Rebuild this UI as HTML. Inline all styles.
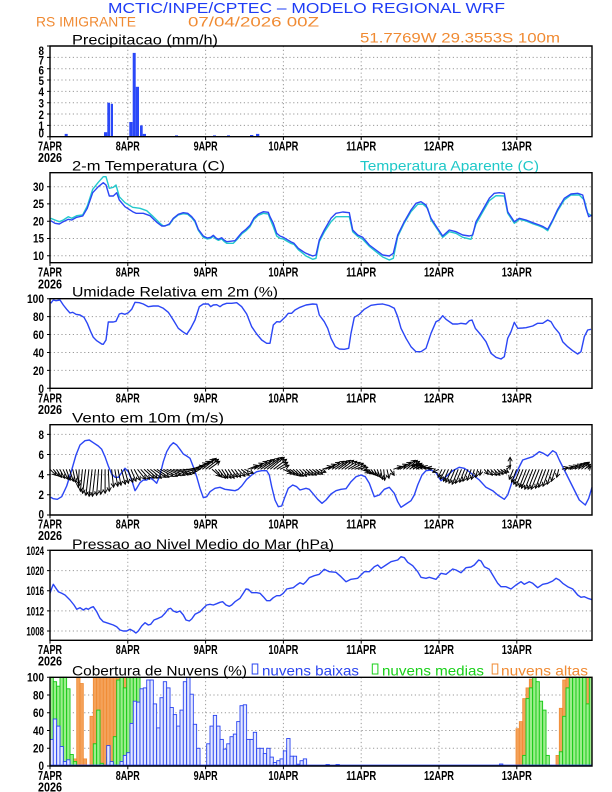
<!DOCTYPE html>
<html><head><meta charset="utf-8"><style>
html,body{margin:0;padding:0;background:#fff}
svg{display:block}
text{font-family:"Liberation Sans",sans-serif}
.g{stroke:#9a9a9a;stroke-width:1;stroke-dasharray:1.2 2.6;fill:none}
.fr{fill:none;stroke:#000;stroke-width:1.4}
.yl{font-size:11.5px;font-weight:bold;fill:#000;text-anchor:end}
.dl{font-size:13px;font-weight:bold;fill:#000;text-anchor:middle}
.tt{font-size:14px;fill:#000}
.ln{fill:none;stroke:#2b46f5;stroke-width:1.4;stroke-linejoin:round}
.tk{stroke:#000;stroke-width:1}
</style></head><body>
<svg width="612" height="792" viewBox="0 0 612 792" xmlns="http://www.w3.org/2000/svg">
<defs>
<marker id="ah" markerWidth="6" markerHeight="6" refX="4.5" refY="3" orient="auto" markerUnits="userSpaceOnUse"><path d="M0.5 0.8L4.5 3L0.5 5.2" fill="none" stroke="#000" stroke-width="0.9"/></marker>
</defs>
<rect width="612" height="792" fill="#fff"/>

<!-- Header -->
<text x="108" y="13" font-size="14.5" fill="#1e3cf5" textLength="397" lengthAdjust="spacingAndGlyphs">MCTIC/INPE/CPTEC – MODELO REGIONAL WRF</text>
<text x="36" y="26.5" font-size="14" fill="#f08a32" textLength="100" lengthAdjust="spacingAndGlyphs">RS IMIGRANTE</text>
<text x="188" y="26.5" font-size="14" fill="#f08a32" textLength="131" lengthAdjust="spacingAndGlyphs">07/04/2026 00Z</text>
<text x="360" y="42.5" font-size="14" fill="#f08a32" textLength="200" lengthAdjust="spacingAndGlyphs">51.7769W 29.3553S 100m</text>

<!-- ============ PANEL 1: Precip ============ -->
<text class="tt" x="72" y="44.3" textLength="146" lengthAdjust="spacingAndGlyphs">Precipitacao (mm/h)</text>
<g class="g">
<path d="M50 125.4H592M50 114H592M50 102.7H592M50 91.4H592M50 80H592M50 68.7H592M50 57.4H592"/>
<path d="M127.8 46V136.7M205.6 46V136.7M283.4 46V136.7M361.2 46V136.7M439 46V136.7M516.8 46V136.7"/>
</g>
<g fill="#2a48f8">
<rect x="64.7" y="133.9" width="3" height="2.8"/>
<rect x="104" y="132.2" width="3.3" height="4.5"/>
<rect x="107.3" y="102.7" width="2.7" height="34"/>
<rect x="110.7" y="103.8" width="2.3" height="32.9"/>
<rect x="129.3" y="122" width="3.3" height="14.7"/>
<rect x="132.7" y="52.9" width="3" height="83.8"/>
<rect x="135.7" y="86.8" width="3.3" height="49.9"/>
<rect x="140" y="125.4" width="2.7" height="11.3"/>
<rect x="142.7" y="133.9" width="3.3" height="2.8"/>
<rect x="175" y="135.4" width="3" height="1.3"/>
<rect x="213" y="135.4" width="3" height="1.3"/>
<rect x="227" y="135.4" width="3" height="1.3"/>
<rect x="250" y="135" width="3.3" height="1.7"/>
<rect x="256" y="133.9" width="3.3" height="2.8"/>
</g>
<path class="fr" d="M50 46H592V136.7H50Z"/>
<path class="tk" d="M47 46H50M47 57.4H50M47 68.7H50M47 80H50M47 91.4H50M47 102.7H50M47 114H50M47 125.4H50M47 136.7H50M50 136.7V140M127.8 136.7V140M205.6 136.7V140M283.4 136.7V140M361.2 136.7V140M439 136.7V140M516.8 136.7V140"/>
<g class="yl">
<text x="44" y="55" textLength="5.5" lengthAdjust="spacingAndGlyphs">8</text>
<text x="44" y="64.3" textLength="5.5" lengthAdjust="spacingAndGlyphs">7</text>
<text x="44" y="74.6" textLength="5.5" lengthAdjust="spacingAndGlyphs">6</text>
<text x="44" y="85" textLength="5.5" lengthAdjust="spacingAndGlyphs">5</text>
<text x="44" y="96" textLength="5.5" lengthAdjust="spacingAndGlyphs">4</text>
<text x="44" y="107.5" textLength="5.5" lengthAdjust="spacingAndGlyphs">3</text>
<text x="44" y="118.8" textLength="5.5" lengthAdjust="spacingAndGlyphs">2</text>
<text x="44" y="130" textLength="5.5" lengthAdjust="spacingAndGlyphs">1</text>
<text x="44" y="137.3" textLength="5.5" lengthAdjust="spacingAndGlyphs">0</text>
</g>
<g class="dl">
<text x="50" y="150.7" textLength="24" lengthAdjust="spacingAndGlyphs">7APR</text>
<text x="50" y="162.2" textLength="24" lengthAdjust="spacingAndGlyphs">2026</text>
<text x="127.8" y="150.7" textLength="24" lengthAdjust="spacingAndGlyphs">8APR</text>
<text x="205.6" y="150.7" textLength="24" lengthAdjust="spacingAndGlyphs">9APR</text>
<text x="283.4" y="150.7" textLength="30" lengthAdjust="spacingAndGlyphs">10APR</text>
<text x="361.2" y="150.7" textLength="30" lengthAdjust="spacingAndGlyphs">11APR</text>
<text x="439" y="150.7" textLength="30" lengthAdjust="spacingAndGlyphs">12APR</text>
<text x="516.8" y="150.7" textLength="30" lengthAdjust="spacingAndGlyphs">13APR</text>
</g>

<!-- ============ PANEL 2: Temperature ============ -->
<text class="tt" x="72" y="170.7" textLength="153" lengthAdjust="spacingAndGlyphs">2-m Temperatura (C)</text>
<text x="360" y="170.7" font-size="14" fill="#1ec8c8" textLength="179" lengthAdjust="spacingAndGlyphs">Temperatura Aparente (C)</text>
<g class="g">
<path d="M50 186.7H592M50 203.9H592M50 221.2H592M50 238.5H592M50 255.8H592"/>
<path d="M127.8 172.7V262.7M205.6 172.7V262.7M283.4 172.7V262.7M361.2 172.7V262.7M439 172.7V262.7M516.8 172.7V262.7"/>
</g>
<polyline fill="none" stroke="#22c8cc" stroke-width="1.4" stroke-linejoin="round" points="50.7,218.3 55,220 59.3,221.7 63.3,220 68.3,216.7 71.7,218.3 76.7,215.7 82.7,215 87.3,206 92.7,189.3 98.3,182.3 103.3,176.7 106,176.7 109.3,188.3 113.3,187.3 116,185 119.3,196.7 125,202.7 132.7,207.3 140,208.3 146.7,210.7 153.3,216.7 160,223.3 163.3,226 169.3,224.7 173.3,219 178.3,215 183.3,213.7 187.7,214.3 191.7,217.7 195,222 198.3,230.3 203.3,237.3 207.3,239 210.7,238.3 213.3,236.3 216,239 218.3,240.3 221.7,239 224,241.3 226.7,243.3 233.3,243.3 237.3,239.3 241.7,234 246,230.7 250,226.7 254,219.3 258.3,215.3 263.3,213.3 268.3,214 270,218.7 273.3,226.7 276.7,236 280,238.3 283.3,239 286.7,241 290.7,243.3 294,244.3 298.3,249.7 303.3,253.7 306,256 312.7,259.3 316,258.3 319.3,241.7 324.3,232 331,221.7 336,216.7 349.3,216.7 352.7,231.7 357.7,236.3 362.7,239.3 369.3,246.3 376,251.7 382.7,257 389.3,260 393.3,258.3 397.7,236.7 404.3,223 411,211.7 417.7,204.3 422.7,204 427.7,208.3 431,219.7 436,227.3 442.7,237.3 449.3,231.7 456,233.3 462.7,237.3 471,239.3 476,224 482.7,212 489.3,200.7 496,195.7 504.3,196 507.7,213.3 514.3,223.3 519.3,219.3 526,221 532.7,223.7 539.3,226 543.3,227.7 547.7,230.7 552.7,221 557.7,210.7 564.3,200 571,195 579.3,195 584.3,200 587.7,213.3 592,216"/>
<polyline class="ln" points="50.7,220.7 55,223.3 59.3,224 63.3,221.7 68.3,219.3 71.7,220 76.7,217.3 82.7,216 87.3,208.3 92.7,192.7 98.3,186.7 103.3,182.7 106,185 109.3,196 113.3,196 116.7,192.7 119.3,200 125,206.7 132.7,211.7 136,213.3 143.3,213.3 150,215.7 157.3,222.7 161.7,226 165,226 169.3,224 173.3,218.3 178.3,214.3 183.3,212.7 187.7,213.3 191.7,216.7 195,220.7 198.3,229.3 203.3,236 207.3,238 210.7,237.3 213.3,235.3 216,238 218.3,239.3 221.7,237.7 224,240 226.7,241.7 230,241.3 235,240.7 237.3,238 241.7,232.7 246,229.3 250,225.3 254,218 258.3,214 263.3,211.7 268.3,212.3 270,216.7 273.3,223.3 276.7,233.3 280,236 283.3,237.3 286.7,239.3 290.7,241.7 294,243.3 298.3,248.3 303.3,251.7 306,253.3 312.7,256 316,255 319.3,240 324.3,230 331,218.3 336,213.3 342.7,212 349.3,212.7 352.7,230 357.7,235 362.7,237.3 369.3,245 376,250 382.7,255 389.3,256 393.3,253.3 397.7,235 404.3,221.7 411,210 416,203.3 421,201.7 426,205 431,218.3 436,226 442.7,236 449.3,230 456,231.7 462.7,235 469.3,236 472.7,235 476,221.7 482.7,210 489.3,198.3 494.3,193.3 499.3,192.7 504.3,193.3 507.7,211.7 514.3,221.7 519.3,218.3 526,220 532.7,222.7 539.3,225 543.3,226.7 547.7,229.3 552.7,220 557.7,209.3 564.3,198.3 571,194 577.7,193.3 582.7,195 586,208.3 588.7,216.7 592,215"/>
<path class="fr" d="M50 172.7H592V262.7H50Z"/>
<path class="tk" d="M47 186.7H50M47 203.9H50M47 221.2H50M47 238.5H50M47 255.8H50M50 262.7V266M127.8 262.7V266M205.6 262.7V266M283.4 262.7V266M361.2 262.7V266M439 262.7V266M516.8 262.7V266"/>
<g class="yl">
<text x="44" y="190.9" textLength="11" lengthAdjust="spacingAndGlyphs">30</text>
<text x="44" y="208.1" textLength="11" lengthAdjust="spacingAndGlyphs">25</text>
<text x="44" y="225.4" textLength="11" lengthAdjust="spacingAndGlyphs">20</text>
<text x="44" y="242.7" textLength="11" lengthAdjust="spacingAndGlyphs">15</text>
<text x="44" y="260" textLength="11" lengthAdjust="spacingAndGlyphs">10</text>
</g>
<g class="dl">
<text x="50" y="276.7" textLength="24" lengthAdjust="spacingAndGlyphs">7APR</text>
<text x="50" y="288.3" textLength="24" lengthAdjust="spacingAndGlyphs">2026</text>
<text x="127.8" y="276.7" textLength="24" lengthAdjust="spacingAndGlyphs">8APR</text>
<text x="205.6" y="276.7" textLength="24" lengthAdjust="spacingAndGlyphs">9APR</text>
<text x="283.4" y="276.7" textLength="30" lengthAdjust="spacingAndGlyphs">10APR</text>
<text x="361.2" y="276.7" textLength="30" lengthAdjust="spacingAndGlyphs">11APR</text>
<text x="439" y="276.7" textLength="30" lengthAdjust="spacingAndGlyphs">12APR</text>
<text x="516.8" y="276.7" textLength="30" lengthAdjust="spacingAndGlyphs">13APR</text>
</g>

<!-- ============ PANEL 3: Humidity ============ -->
<text class="tt" x="72" y="296.7" textLength="206" lengthAdjust="spacingAndGlyphs">Umidade Relativa em 2m (%)</text>
<g class="g">
<path d="M50 370.4H592M50 352.5H592M50 334.5H592M50 316.6H592"/>
<path d="M127.8 298.7V388.3M205.6 298.7V388.3M283.4 298.7V388.3M361.2 298.7V388.3M439 298.7V388.3M516.8 298.7V388.3"/>
</g>
<polyline class="ln" points="50.7,303.3 53.3,300 56,300.7 60,300 63.3,305 66.7,309.3 70,313 72.7,312.3 76,314.3 80,315 84,317.3 87.3,323.3 90.7,331.7 93.3,337.3 96.7,340.7 101.7,344 103.3,344.3 106,340 108.3,322 113.3,322 116,321.3 119.3,314 121.7,313.3 125,314.3 128.3,312.7 131.7,309.3 135,302.3 139.3,302.7 143.3,304 148.3,306.7 153.3,306 158.3,306 163.3,308.3 168.3,312.3 173.3,320 178.3,328.3 182.7,331.7 186.7,334.3 190.7,328.3 195,320 199.3,306.7 203.3,304 208.3,304 210.7,306.7 213.3,305 216.7,304.7 220,306.7 222.7,304.7 226.7,303.3 231.7,303.3 236.7,302.7 241.7,306.7 246.7,314 251.7,326.7 256.7,334 261.7,340 266.7,343.3 270,343.3 273.3,325 276.7,321.7 280,322 285,317.3 288.3,313.3 291.7,313.3 295,310 300,307.3 306,305 312.7,304 316.7,304.3 319.3,315 324.3,321.7 327.7,328.3 331,338.3 335.3,346.7 339.3,349 344.3,349.3 348.7,348.3 351,333.3 354.3,317.3 359.3,314.3 364.3,309.3 371,305.3 377.7,304.3 382.7,304 389.3,305.7 394.3,308.3 397.7,316.7 401,328.3 406,338.3 411,346.7 416,351.7 421,351.7 426,348.3 431,333.3 436,321.7 439.3,320 442.7,315.7 446,319.3 452.7,324 457.7,324 461,323.3 466,324 469.3,320.7 472,320 475.3,328.3 481,335 486,341.7 491,353.3 496,357.3 501,359 504.3,356.7 507.7,338.3 511,331.7 514.3,322.3 517.7,328.3 522.7,328 526,327.7 532.7,326 537.7,323.3 542.7,323.3 547.7,320 551,321.7 554.3,327.3 559.3,333.3 562.7,341.7 567.7,346.7 572.7,350.7 577.7,354 581,351.7 584.3,336.7 587.7,330 591,329.3"/>
<path class="fr" d="M50 298.7H592V388.3H50Z"/>
<path class="tk" d="M47 298.7H50M47 316.6H50M47 334.5H50M47 352.5H50M47 370.4H50M47 388.3H50M50 388.3V391.6M127.8 388.3V391.6M205.6 388.3V391.6M283.4 388.3V391.6M361.2 388.3V391.6M439 388.3V391.6M516.8 388.3V391.6"/>
<g class="yl">
<text x="44" y="303.2" textLength="17" lengthAdjust="spacingAndGlyphs">100</text>
<text x="44" y="321" textLength="11" lengthAdjust="spacingAndGlyphs">80</text>
<text x="44" y="338.9" textLength="11" lengthAdjust="spacingAndGlyphs">60</text>
<text x="44" y="356.9" textLength="11" lengthAdjust="spacingAndGlyphs">40</text>
<text x="44" y="374.8" textLength="11" lengthAdjust="spacingAndGlyphs">20</text>
<text x="44" y="392.8" textLength="5.5" lengthAdjust="spacingAndGlyphs">0</text>
</g>
<g class="dl">
<text x="50" y="402.3" textLength="24" lengthAdjust="spacingAndGlyphs">7APR</text>
<text x="50" y="413.8" textLength="24" lengthAdjust="spacingAndGlyphs">2026</text>
<text x="127.8" y="402.3" textLength="24" lengthAdjust="spacingAndGlyphs">8APR</text>
<text x="205.6" y="402.3" textLength="24" lengthAdjust="spacingAndGlyphs">9APR</text>
<text x="283.4" y="402.3" textLength="30" lengthAdjust="spacingAndGlyphs">10APR</text>
<text x="361.2" y="402.3" textLength="30" lengthAdjust="spacingAndGlyphs">11APR</text>
<text x="439" y="402.3" textLength="30" lengthAdjust="spacingAndGlyphs">12APR</text>
<text x="516.8" y="402.3" textLength="30" lengthAdjust="spacingAndGlyphs">13APR</text>
</g>

<!-- ============ PANEL 4: Wind ============ -->
<text class="tt" x="72" y="422.7" textLength="152" lengthAdjust="spacingAndGlyphs">Vento em 10m (m/s)</text>
<g class="g">
<path d="M50 494.8H592M50 474.7H592M50 454.5H592M50 434.4H592"/>
<path d="M127.8 424.7V515M205.6 424.7V515M283.4 424.7V515M361.2 424.7V515M439 424.7V515M516.8 424.7V515"/>
</g>
<polyline class="ln" points="50.7,497.3 53.3,498.7 57.3,499.3 61.7,496.7 66.7,486 71.7,470 76,455 80,445 85,440.7 89.3,440 93.3,442.7 98.3,446 101.7,449.3 105,456.7 108.3,466 111.7,474 115,477.3 118.3,477.3 121.7,472.7 125,468.3 128.3,471.7 131.7,480 135,490.7 136.7,488.3 140,482.7 143.3,480 146.7,480 150,477.7 153.3,480 156.7,483.3 160,475 163.3,461.7 166.7,451.7 170,446 173.3,442.7 176.7,445 180,449.3 183.3,454 186.7,456 190,458.3 193.3,466.7 196.7,476.7 200,488.3 203.3,497.7 206.7,496.7 210,491.7 215,488.3 220,487.3 225,489.3 230,490 235,490.7 238.3,489.3 241.7,486 246.7,479.3 251.7,475 256.7,471.7 261.7,470.7 266.7,470.7 269.3,475 271.7,486.7 275,500 278.3,506.7 281.7,506 285,496.7 288.3,488.3 292.7,485 296.7,486.7 300,490 306,488.3 309.3,489.3 312.7,493.3 317.7,499.3 322,503.3 326,500 331,494 336,490.7 341,489.3 346,488.7 351,481.7 356,476.7 361,475 365.3,476.7 369.3,483.3 374.3,496.7 379.3,495 384.3,489.3 389.3,487.3 394.3,493.3 397.7,501.7 401,507.3 406,504 411,500.7 414.3,495 417.7,485 422,475 426,470.7 431,470 436,472.7 441,480.7 446,476.7 452.7,470.7 459.3,467.3 464.3,468.3 469.3,471.7 474.3,476 479.3,480 486,487.3 492.7,490.7 497.7,495 504.3,499.3 507.7,495 512.7,480 517.7,470 522.7,460 527.7,458.3 532.7,456.7 539.3,451.7 543.3,453.3 547.7,456 552.7,450.7 556,452.7 559.3,460 564.3,470 569.3,480 574.3,490 579.3,500 585.3,505 588.7,498.3 592,487.3"/>
<g stroke="#000" stroke-width="1" fill="none" marker-end="url(#ah)">
<path d="M50 469.3l6 6"/><path d="M53.2 469.3l6 7"/><path d="M56.5 469.3l5 8"/><path d="M59.7 469.3l5 9"/><path d="M63 469.3l5 10"/><path d="M66.2 469.3l4 11"/><path d="M69.4 469.3l4 12"/><path d="M72.7 469.3l3 13"/><path d="M75.9 469.3l3 15"/>
<path d="M79.2 469.3l-1 18"/><path d="M82.4 469.3l-2 22"/><path d="M85.6 469.3l-3 24"/><path d="M88.9 469.3l-3 26"/><path d="M92.1 469.3l-3 27"/><path d="M95.4 469.3l-3 27"/><path d="M98.6 469.3l-2 26"/><path d="M101.8 469.3l-1 25"/><path d="M105.1 469.3l0 24"/><path d="M108.3 469.3l1 22"/>
<path d="M111.6 469.3l2 18"/><path d="M114.8 469.3l3 17"/><path d="M118 469.3l3 16"/><path d="M121.3 469.3l4 15"/><path d="M124.5 469.3l4 14"/><path d="M127.8 469.3l5 13"/><path d="M131 469.3l5 12"/><path d="M134.2 469.3l6 11"/>
<path d="M137.5 469.3l8 10"/><path d="M140.7 469.3l9 10"/><path d="M144 469.3l10 9"/><path d="M147.2 469.3l10 9"/><path d="M150.4 469.3l11 9"/><path d="M153.7 469.3l12 8"/><path d="M156.9 469.3l12 8"/>
<path d="M160.2 469.3l13 7"/><path d="M163.4 469.3l14 7"/><path d="M166.6 469.3l14 6"/><path d="M169.9 469.3l15 6"/><path d="M173.1 469.3l15 5"/><path d="M176.4 469.3l15 5"/><path d="M179.6 469.3l15 4"/><path d="M182.8 469.3l14 2"/><path d="M186.1 469.3l14 0"/><path d="M189.3 469.3l14 -3"/><path d="M192.6 469.3l14 -6"/>
<path d="M195.8 469.3l14 -8"/><path d="M199 469.3l15 -10"/><path d="M202.3 469.3l14 -11"/><path d="M205.5 469.3l13 -10"/><path d="M208.8 469.3l11 -8"/>
<path d="M212 469.3l8 7"/><path d="M215.2 469.3l7 8"/><path d="M218.5 469.3l7 9"/><path d="M221.7 469.3l6 9"/><path d="M225 469.3l6 9"/><path d="M228.2 469.3l6 9"/><path d="M231.4 469.3l6 8"/><path d="M234.7 469.3l6 8"/><path d="M237.9 469.3l7 7"/><path d="M241.2 469.3l8 6"/><path d="M244.4 469.3l9 4"/>
<path d="M247.6 469.3l10 -4"/><path d="M250.9 469.3l12 -6"/><path d="M254.1 469.3l13 -8"/><path d="M257.4 469.3l14 -9"/><path d="M260.6 469.3l14 -10"/><path d="M263.8 469.3l15 -11"/><path d="M267.1 469.3l15 -12"/><path d="M270.3 469.3l14 -12"/><path d="M273.6 469.3l13 -10"/><path d="M276.8 469.3l11 -7"/><path d="M280 469.3l9 -4"/>
<path d="M283.3 469.3l8 4"/><path d="M286.5 469.3l8 5"/><path d="M289.8 469.3l8 6"/><path d="M293 469.3l8 7"/><path d="M296.2 469.3l7 7"/><path d="M299.5 469.3l7 7"/><path d="M302.7 469.3l7 6"/><path d="M306 469.3l7 6"/><path d="M309.2 469.3l7 6"/><path d="M312.4 469.3l7 5"/><path d="M315.7 469.3l7 5"/><path d="M318.9 469.3l7 3"/>
<path d="M322.2 469.3l9 -3"/><path d="M325.4 469.3l10 -5"/><path d="M328.6 469.3l11 -7"/><path d="M331.9 469.3l12 -8"/><path d="M335.1 469.3l12 -8"/><path d="M338.4 469.3l12 -9"/><path d="M341.6 469.3l12 -9"/><path d="M344.8 469.3l12 -8"/><path d="M348.1 469.3l12 -7"/><path d="M351.3 469.3l12 -6"/><path d="M354.6 469.3l11 -4"/><path d="M357.8 469.3l10 -2"/>
<path d="M361 469.3l8 3"/><path d="M364.3 469.3l7 4"/><path d="M367.5 469.3l6 5"/><path d="M370.8 469.3l5 6"/><path d="M374 469.3l4 7"/><path d="M377.2 469.3l3 8"/><path d="M380.5 469.3l2 10"/><path d="M383.7 469.3l1 11"/><path d="M387 469.3l2 9"/><path d="M390.2 469.3l4 6"/>
<path d="M393.4 469.3l8 -3"/><path d="M396.7 469.3l10 -5"/><path d="M399.9 469.3l11 -7"/><path d="M403.2 469.3l12 -9"/><path d="M406.4 469.3l11 -9"/><path d="M409.6 469.3l10 -8"/><path d="M412.9 469.3l9 -6"/><path d="M416.1 469.3l7 -4"/>
<path d="M419.4 469.3l-8 -4"/><path d="M422.6 469.3l-9 -5"/><path d="M425.8 469.3l-10 -5"/><path d="M429.1 469.3l-10 -4"/><path d="M432.3 469.3l-9 -3"/><path d="M435.6 469.3l-8 -2"/><path d="M438.8 469.3l-6 3"/>
<path d="M442 469.3l-4 8"/><path d="M445.3 469.3l-5 10"/><path d="M448.5 469.3l-5 12"/><path d="M451.8 469.3l-6 13"/><path d="M455 469.3l-6 14"/><path d="M458.2 469.3l-6 15"/><path d="M461.5 469.3l-6 14"/><path d="M464.7 469.3l-5 13"/><path d="M468 469.3l-5 12"/><path d="M471.2 469.3l-4 11"/><path d="M474.4 469.3l-3 10"/><path d="M477.7 469.3l-2 8"/><path d="M480.9 469.3l-1 6"/>
<path d="M484.2 469.3l4 5"/><path d="M487.4 469.3l5 6"/><path d="M490.6 469.3l6 6"/><path d="M493.9 469.3l6 6"/><path d="M497.1 469.3l6 5"/><path d="M500.4 469.3l6 4"/><path d="M503.6 469.3l5 3"/><path d="M506.8 469.3l4 -4"/><path d="M510.1 469.3l0 -12"/>
<path d="M513.3 469.3l-4 10"/><path d="M516.6 469.3l-5 13"/><path d="M519.8 469.3l-6 15"/><path d="M523 469.3l-7 17"/><path d="M526.3 469.3l-7 18"/><path d="M529.5 469.3l-8 19"/><path d="M532.8 469.3l-8 20"/><path d="M536 469.3l-8 20"/><path d="M539.2 469.3l-8 20"/><path d="M542.5 469.3l-7 19"/><path d="M545.7 469.3l-7 18"/><path d="M549 469.3l-6 17"/><path d="M552.2 469.3l-5 15"/><path d="M555.4 469.3l-4 12"/><path d="M558.7 469.3l-2 8"/>
<path d="M561.9 469.3l6 -2"/><path d="M565.2 469.3l8 -3"/><path d="M568.4 469.3l9 -4"/><path d="M571.6 469.3l10 -5"/><path d="M574.9 469.3l10 -6"/><path d="M578.1 469.3l10 -7"/><path d="M581.4 469.3l8 -7"/><path d="M584.6 469.3l6 -5"/><path d="M587.8 469.3l3 -3"/>
</g>
<path class="fr" d="M50 424.7H592V515H50Z"/>
<path class="tk" d="M47 434.4H50M47 454.5H50M47 474.7H50M47 494.8H50M47 515H50M50 515V518.3M127.8 515V518.3M205.6 515V518.3M283.4 515V518.3M361.2 515V518.3M439 515V518.3M516.8 515V518.3"/>
<g class="yl">
<text x="44" y="438.9" textLength="5.5" lengthAdjust="spacingAndGlyphs">8</text>
<text x="44" y="459" textLength="5.5" lengthAdjust="spacingAndGlyphs">6</text>
<text x="44" y="479.1" textLength="5.5" lengthAdjust="spacingAndGlyphs">4</text>
<text x="44" y="499.2" textLength="5.5" lengthAdjust="spacingAndGlyphs">2</text>
<text x="44" y="518.6" textLength="5.5" lengthAdjust="spacingAndGlyphs">0</text>
</g>
<g class="dl">
<text x="50" y="528.5" textLength="24" lengthAdjust="spacingAndGlyphs">7APR</text>
<text x="50" y="540.2" textLength="24" lengthAdjust="spacingAndGlyphs">2026</text>
<text x="127.8" y="528.5" textLength="24" lengthAdjust="spacingAndGlyphs">8APR</text>
<text x="205.6" y="528.5" textLength="24" lengthAdjust="spacingAndGlyphs">9APR</text>
<text x="283.4" y="528.5" textLength="30" lengthAdjust="spacingAndGlyphs">10APR</text>
<text x="361.2" y="528.5" textLength="30" lengthAdjust="spacingAndGlyphs">11APR</text>
<text x="439" y="528.5" textLength="30" lengthAdjust="spacingAndGlyphs">12APR</text>
<text x="516.8" y="528.5" textLength="30" lengthAdjust="spacingAndGlyphs">13APR</text>
</g>

<!-- ============ PANEL 5: Pressure ============ -->
<text class="tt" x="72" y="549" textLength="262" lengthAdjust="spacingAndGlyphs">Pressao ao Nivel Medio do Mar (hPa)</text>
<g class="g">
<path d="M50 631H592M50 610.9H592M50 590.7H592M50 570.6H592"/>
<path d="M127.8 550.3V640.3M205.6 550.3V640.3M283.4 550.3V640.3M361.2 550.3V640.3M439 550.3V640.3M516.8 550.3V640.3"/>
</g>
<polyline class="ln" points="50,593.3 51.7,588.3 53.3,584.3 56,588.3 58.3,591.7 61.7,593.3 65,595 70,600 74,605 76.7,609.3 80,607.7 83.3,610 86,608.3 88.3,609.3 90.7,607.7 93.3,606.7 96.7,611.7 100,618.3 103.3,621.7 108.3,623.3 113.3,625 116.7,626.7 120,630 123.3,631 126.7,631 130,629.3 133.3,631 136,633 138.3,631 141.7,626 145,622.7 148.3,625 150.7,624.3 154,620 158.3,618.3 161.7,616.7 165,613.3 168.3,609 170.7,608.3 173.3,611 176.7,612.3 180,611 183.3,615 186,620 189.3,621 191.7,619 195,614.3 200,611.7 203.3,608.3 206.7,605 210,604.3 213.3,605 216.7,603.7 220,602.3 222.7,601.7 226,605 229.3,606.3 231.7,605 235,601.7 240,598.3 243.3,593.3 246,589 248.3,589.3 251.7,592.7 256.7,592.7 260,593.3 263.3,596.7 266.7,600.7 270,600.7 273.3,597.7 276.7,595.7 280,595.7 283.3,593.3 286.7,589 290,588.3 293.3,587.7 296.7,585 300,582.7 303.3,584.3 306,581.7 309.3,577.7 314.3,575.7 319.3,574.3 324.3,569.3 329.3,571.7 336,572.3 341,576.7 346,581.7 351,579.3 357.7,578.3 361,575 364.3,571.7 369.3,571.7 374.3,566.7 377.7,565 381,568.3 386,565 391,561.7 397.7,560 401,556.7 404.3,557.7 407.7,562.3 412.7,565.7 417.7,571.7 421,577.3 426,578.3 429.3,577.3 436,579.3 441,573.3 446,574.3 452.7,569 456,570 461,572.7 466,567.7 471,567 474.3,565 478.7,560 481,561 484.3,566.7 489.3,569.3 492.7,575 497.7,583.3 501,586.7 506,586.7 511,589 516,585 521,581.7 524.3,584.3 529.3,581.7 532.7,583.3 537.7,587.7 542.7,584.3 547.7,583.3 552.7,581 556,578.3 559.3,580 562.7,583.3 567.7,586.7 572.7,589 577.7,595 581,597.3 584.3,596.7 587.7,598.3 592,599.7"/>
<path class="fr" d="M50 550.3H592V640.3H50Z"/>
<path class="tk" d="M47 550.3H50M47 570.6H50M47 590.7H50M47 610.9H50M47 631H50M50 640.3V643.6M127.8 640.3V643.6M205.6 640.3V643.6M283.4 640.3V643.6M361.2 640.3V643.6M439 640.3V643.6M516.8 640.3V643.6"/>
<g class="yl">
<text x="44" y="555" textLength="17.6" lengthAdjust="spacingAndGlyphs">1024</text>
<text x="44" y="575" textLength="17.6" lengthAdjust="spacingAndGlyphs">1020</text>
<text x="44" y="595.1" textLength="17.6" lengthAdjust="spacingAndGlyphs">1016</text>
<text x="44" y="615.3" textLength="17.6" lengthAdjust="spacingAndGlyphs">1012</text>
<text x="44" y="635.4" textLength="17.6" lengthAdjust="spacingAndGlyphs">1008</text>
</g>
<g class="dl">
<text x="50" y="654" textLength="24" lengthAdjust="spacingAndGlyphs">7APR</text>
<text x="50" y="665.5" textLength="24" lengthAdjust="spacingAndGlyphs">2026</text>
<text x="127.8" y="654" textLength="24" lengthAdjust="spacingAndGlyphs">8APR</text>
<text x="205.6" y="654" textLength="24" lengthAdjust="spacingAndGlyphs">9APR</text>
<text x="283.4" y="654" textLength="30" lengthAdjust="spacingAndGlyphs">10APR</text>
<text x="361.2" y="654" textLength="30" lengthAdjust="spacingAndGlyphs">11APR</text>
<text x="439" y="654" textLength="30" lengthAdjust="spacingAndGlyphs">12APR</text>
<text x="516.8" y="654" textLength="30" lengthAdjust="spacingAndGlyphs">13APR</text>
</g>

<!-- ============ PANEL 6: Clouds ============ -->
<text class="tt" x="72" y="675.7" textLength="175" lengthAdjust="spacingAndGlyphs">Cobertura de Nuvens (%)</text>
<rect x="252.2" y="664" width="5.6" height="10" fill="none" stroke="#2a44f0" stroke-width="1"/>
<text x="262" y="675.5" font-size="14" fill="#2a44f0" textLength="97" lengthAdjust="spacingAndGlyphs">nuvens baixas</text>
<rect x="372.3" y="664" width="5.6" height="10" fill="none" stroke="#18d018" stroke-width="1"/>
<text x="382" y="675.5" font-size="14" fill="#18d018" textLength="102" lengthAdjust="spacingAndGlyphs">nuvens medias</text>
<rect x="492.2" y="664" width="5.6" height="10" fill="none" stroke="#f08a32" stroke-width="1"/>
<text x="501" y="675.5" font-size="14" fill="#f08a32" textLength="87" lengthAdjust="spacingAndGlyphs">nuvens altas</text>
<g class="g">
<path d="M50 748.3H592M50 730.5H592M50 712.8H592M50 695H592"/>
<path d="M127.8 677.3V766M205.6 677.3V766M283.4 677.3V766M361.2 677.3V766M439 677.3V766M516.8 677.3V766"/>
</g>
<!-- high clouds (orange) -->
<g fill="#f4a25a" stroke="#f08a32" stroke-width="0.8">
<rect x="50" y="695" width="3.33" height="71"/>
<rect x="53.3" y="750.9" width="3.33" height="15.1"/>
<rect x="56.7" y="750.9" width="3.33" height="15.1"/>
<rect x="73.3" y="758.9" width="3.33" height="7.1"/>
<rect x="76.7" y="677.3" width="3.33" height="88.7"/>
<rect x="80" y="683.5" width="3.33" height="82.5"/>
<rect x="83.3" y="758.9" width="3.33" height="7.1"/>
<rect x="90" y="716.3" width="3.33" height="49.7"/>
<rect x="93.3" y="677.3" width="3.33" height="88.7"/>
<rect x="96.7" y="677.3" width="3.33" height="88.7"/>
<rect x="100" y="677.3" width="3.33" height="88.7"/>
<rect x="103.3" y="677.3" width="3.33" height="88.7"/>
<rect x="106.7" y="677.3" width="3.33" height="88.7"/>
<rect x="110" y="677.3" width="3.33" height="88.7"/>
<rect x="113.3" y="677.3" width="3.33" height="88.7"/>
<rect x="116.7" y="677.3" width="3.33" height="88.7"/>
<rect x="120" y="677.3" width="3.33" height="88.7"/>
<rect x="123.3" y="677.3" width="3.33" height="88.7"/>
<rect x="126.7" y="677.3" width="3.33" height="88.7"/>
<rect x="130" y="677.3" width="3.33" height="88.7"/>
<rect x="133.3" y="677.3" width="3.33" height="88.7"/>
<rect x="136.7" y="677.3" width="3.33" height="88.7"/>
<rect x="140" y="731.4" width="3.33" height="34.6"/>
<rect x="516" y="728.7" width="3.33" height="37.3"/>
<rect x="519.3" y="721.6" width="3.33" height="44.4"/>
<rect x="522.7" y="698.6" width="3.33" height="67.4"/>
<rect x="526" y="687.9" width="3.33" height="78.1"/>
<rect x="529.3" y="679.1" width="3.33" height="86.9"/>
<rect x="532.7" y="677.3" width="3.33" height="88.7"/>
<rect x="536" y="690.6" width="3.33" height="75.4"/>
<rect x="539.3" y="712.8" width="3.33" height="53.2"/>
<rect x="542.7" y="748.3" width="3.33" height="17.7"/>
<rect x="556" y="755.4" width="3.33" height="10.6"/>
<rect x="559.3" y="708.3" width="3.33" height="57.7"/>
<rect x="562.7" y="680" width="3.33" height="86"/>
<rect x="566" y="677.3" width="3.33" height="88.7"/>
<rect x="569.3" y="677.3" width="3.33" height="88.7"/>
<rect x="572.7" y="677.3" width="3.33" height="88.7"/>
<rect x="576" y="677.3" width="3.33" height="88.7"/>
<rect x="579.3" y="677.3" width="3.33" height="88.7"/>
<rect x="582.7" y="677.3" width="3.33" height="88.7"/>
<rect x="586" y="677.3" width="3.33" height="88.7"/>
<rect x="589.3" y="677.3" width="2.7" height="88.7"/>
</g>
<!-- medium clouds (green) -->
<g fill="#9cee8c" stroke="#14c814" stroke-width="0.9">
<rect x="50" y="677.3" width="3.33" height="88.7"/>
<rect x="53.3" y="681.7" width="3.33" height="84.3"/>
<rect x="56.7" y="686.2" width="3.33" height="79.8"/>
<rect x="60" y="677.3" width="3.33" height="88.7"/>
<rect x="63.3" y="677.3" width="3.33" height="88.7"/>
<rect x="66.7" y="688.8" width="3.33" height="77.2"/>
<rect x="70" y="754.5" width="3.33" height="11.5"/>
<rect x="73.3" y="761.6" width="3.33" height="4.4"/>
<rect x="93.3" y="743.8" width="3.33" height="22.2"/>
<rect x="96.7" y="710.1" width="3.33" height="55.9"/>
<rect x="100" y="763.3" width="3.33" height="2.7"/>
<rect x="106.7" y="757.1" width="3.33" height="8.9"/>
<rect x="110" y="763.3" width="3.33" height="2.7"/>
<rect x="113.3" y="736.7" width="3.33" height="29.3"/>
<rect x="116.7" y="680" width="3.33" height="86"/>
<rect x="120" y="677.3" width="3.33" height="88.7"/>
<rect x="123.3" y="687.9" width="3.33" height="78.1"/>
<rect x="126.7" y="677.3" width="3.33" height="88.7"/>
<rect x="130" y="677.3" width="3.33" height="88.7"/>
<rect x="133.3" y="677.3" width="3.33" height="88.7"/>
<rect x="136.7" y="677.3" width="3.33" height="88.7"/>
<rect x="140" y="763.3" width="3.33" height="2.7"/>
<rect x="522.7" y="755.4" width="3.33" height="10.6"/>
<rect x="526" y="698.6" width="3.33" height="67.4"/>
<rect x="529.3" y="687.9" width="3.33" height="78.1"/>
<rect x="532.7" y="677.3" width="3.33" height="88.7"/>
<rect x="536" y="681.7" width="3.33" height="84.3"/>
<rect x="539.3" y="701.2" width="3.33" height="64.8"/>
<rect x="542.7" y="710.1" width="3.33" height="55.9"/>
<rect x="546" y="755.4" width="3.33" height="10.6"/>
<rect x="559.3" y="751.8" width="3.33" height="14.2"/>
<rect x="562.7" y="716.3" width="3.33" height="49.7"/>
<rect x="566" y="687.9" width="3.33" height="78.1"/>
<rect x="569.3" y="677.3" width="3.33" height="88.7"/>
<rect x="572.7" y="677.3" width="3.33" height="88.7"/>
<rect x="576" y="677.3" width="3.33" height="88.7"/>
<rect x="579.3" y="677.3" width="3.33" height="88.7"/>
<rect x="582.7" y="677.3" width="3.33" height="88.7"/>
<rect x="586" y="703.9" width="3.33" height="62.1"/>
<rect x="589.3" y="677.3" width="2.7" height="88.7"/>
</g>
<!-- low clouds (blue) -->
<g fill="#e4e8ff" stroke="#2a44f0" stroke-width="0.9">
<rect x="50" y="739.4" width="3.33" height="26.6"/>
<rect x="53.3" y="719" width="3.33" height="47"/>
<rect x="56.7" y="726.1" width="3.33" height="39.9"/>
<rect x="60" y="746.5" width="3.33" height="19.5"/>
<rect x="63.3" y="761.6" width="3.33" height="4.4"/>
<rect x="66.7" y="759.8" width="3.33" height="6.2"/>
<rect x="106.7" y="745.6" width="3.33" height="20.4"/>
<rect x="110" y="761.6" width="3.33" height="4.4"/>
<rect x="120" y="761.6" width="3.33" height="4.4"/>
<rect x="123.3" y="755.4" width="3.33" height="10.6"/>
<rect x="126.7" y="752.7" width="3.33" height="13.3"/>
<rect x="130" y="723.4" width="3.33" height="42.6"/>
<rect x="133.3" y="701.2" width="3.33" height="64.8"/>
<rect x="136.7" y="702.1" width="3.33" height="63.9"/>
<rect x="140" y="688.8" width="3.33" height="77.2"/>
<rect x="143.3" y="687.9" width="3.33" height="78.1"/>
<rect x="146.7" y="680" width="3.33" height="86"/>
<rect x="150" y="680" width="3.33" height="86"/>
<rect x="153.3" y="703.9" width="3.33" height="62.1"/>
<rect x="156.7" y="727.9" width="3.33" height="38.1"/>
<rect x="160" y="697.7" width="3.33" height="68.3"/>
<rect x="163.3" y="681.7" width="3.33" height="84.3"/>
<rect x="166.7" y="687.9" width="3.33" height="78.1"/>
<rect x="170" y="707.5" width="3.33" height="58.5"/>
<rect x="173.3" y="714.6" width="3.33" height="51.4"/>
<rect x="176.7" y="726.1" width="3.33" height="39.9"/>
<rect x="180" y="710.1" width="3.33" height="55.9"/>
<rect x="183.3" y="681.7" width="3.33" height="84.3"/>
<rect x="186.7" y="677.3" width="3.33" height="88.7"/>
<rect x="190" y="694.2" width="3.33" height="71.8"/>
<rect x="193.3" y="724.3" width="3.33" height="41.7"/>
<rect x="196.7" y="748.3" width="3.33" height="17.7"/>
<rect x="206.7" y="743.8" width="3.33" height="22.2"/>
<rect x="210" y="726.1" width="3.33" height="39.9"/>
<rect x="213.3" y="715.4" width="3.33" height="50.6"/>
<rect x="216.7" y="726.1" width="3.33" height="39.9"/>
<rect x="220" y="739.4" width="3.33" height="26.6"/>
<rect x="223.3" y="749.1" width="3.33" height="16.9"/>
<rect x="226.7" y="743.8" width="3.33" height="22.2"/>
<rect x="230" y="736.7" width="3.33" height="29.3"/>
<rect x="233.3" y="734.1" width="3.33" height="31.9"/>
<rect x="236.7" y="721.6" width="3.33" height="44.4"/>
<rect x="240" y="705.7" width="3.33" height="60.3"/>
<rect x="243.3" y="704.8" width="3.33" height="61.2"/>
<rect x="246.7" y="739.4" width="3.33" height="26.6"/>
<rect x="250" y="739.4" width="3.33" height="26.6"/>
<rect x="253.3" y="732.3" width="3.33" height="33.7"/>
<rect x="256.7" y="748.3" width="3.33" height="17.7"/>
<rect x="260" y="748.3" width="3.33" height="17.7"/>
<rect x="263.3" y="753.6" width="3.33" height="12.4"/>
<rect x="266.7" y="748.3" width="3.33" height="17.7"/>
<rect x="270" y="757.1" width="3.33" height="8.9"/>
<rect x="273.3" y="762.5" width="3.33" height="3.5"/>
<rect x="276.7" y="760.7" width="3.33" height="5.3"/>
<rect x="280" y="758.9" width="3.33" height="7.1"/>
<rect x="283.3" y="750.9" width="3.33" height="15.1"/>
<rect x="286.7" y="738.5" width="3.33" height="27.5"/>
<rect x="290" y="756.2" width="3.33" height="9.8"/>
<rect x="293.3" y="756.2" width="3.33" height="9.8"/>
<rect x="296.7" y="764.2" width="3.33" height="1.8"/>
<rect x="300" y="760.7" width="3.33" height="5.3"/>
<rect x="303.3" y="758.9" width="3.33" height="7.1"/>
<rect x="326" y="764.5" width="3.33" height="1.5"/>
<rect x="336" y="764.5" width="3.33" height="1.5"/>
<rect x="499.5" y="764" width="3.33" height="2"/>
</g>
<path d="M50 765.4H592" stroke="#2a44f0" stroke-width="1.6"/>
<path class="fr" d="M50 677.3H592V766H50Z"/>
<path class="tk" d="M47 677.3H50M47 695H50M47 712.8H50M47 730.5H50M47 748.3H50M47 766H50M50 766V769.3M127.8 766V769.3M205.6 766V769.3M283.4 766V769.3M361.2 766V769.3M439 766V769.3M516.8 766V769.3"/>
<g class="yl">
<text x="44" y="681.7" textLength="17" lengthAdjust="spacingAndGlyphs">100</text>
<text x="44" y="699.4" textLength="11" lengthAdjust="spacingAndGlyphs">80</text>
<text x="44" y="717.2" textLength="11" lengthAdjust="spacingAndGlyphs">60</text>
<text x="44" y="734.9" textLength="11" lengthAdjust="spacingAndGlyphs">40</text>
<text x="44" y="752.7" textLength="11" lengthAdjust="spacingAndGlyphs">20</text>
<text x="44" y="770" textLength="5.5" lengthAdjust="spacingAndGlyphs">0</text>
</g>
<g class="dl">
<text x="50" y="780" textLength="24" lengthAdjust="spacingAndGlyphs">7APR</text>
<text x="50" y="791.3" textLength="24" lengthAdjust="spacingAndGlyphs">2026</text>
<text x="127.8" y="780" textLength="24" lengthAdjust="spacingAndGlyphs">8APR</text>
<text x="205.6" y="780" textLength="24" lengthAdjust="spacingAndGlyphs">9APR</text>
<text x="283.4" y="780" textLength="30" lengthAdjust="spacingAndGlyphs">10APR</text>
<text x="361.2" y="780" textLength="30" lengthAdjust="spacingAndGlyphs">11APR</text>
<text x="439" y="780" textLength="30" lengthAdjust="spacingAndGlyphs">12APR</text>
<text x="516.8" y="780" textLength="30" lengthAdjust="spacingAndGlyphs">13APR</text>
</g>
</svg>
</body></html>
